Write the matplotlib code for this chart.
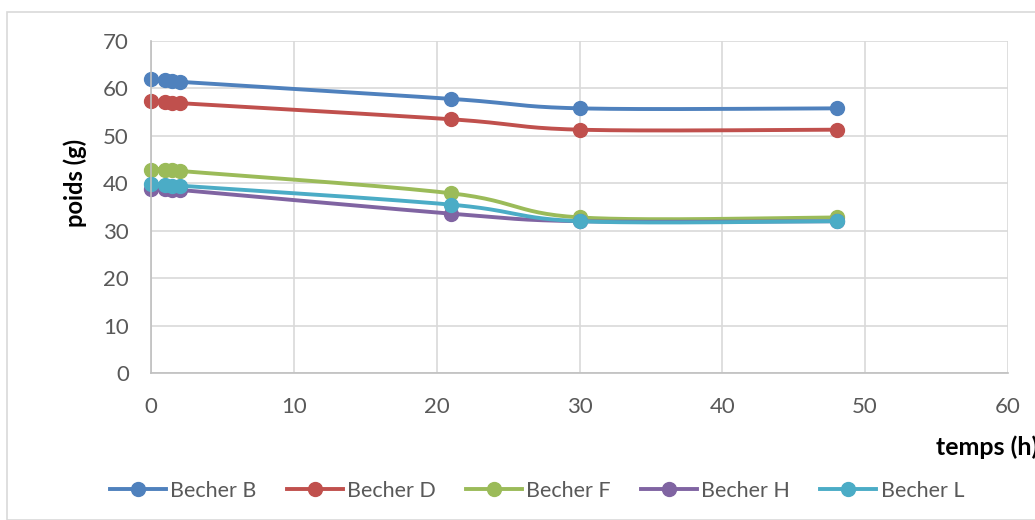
import numpy as np
import matplotlib
matplotlib.use("Agg")
import matplotlib.pyplot as plt
from matplotlib.patches import Rectangle

plt.rcParams["font.family"] = ["Lato", "DejaVu Sans"]

# temps (h) and mass of each beaker (g)
temps = [0, 1, 1.5, 2, 21, 30, 48]
becher_b = [62.0, 61.8, 61.5, 61.4, 57.8, 55.8, 55.8]
becher_d = [57.4, 57.1, 56.9, 56.9, 53.5, 51.3, 51.3]
becher_f = [42.8, 42.7, 42.7, 42.6, 37.9, 32.8, 32.8]
becher_h = [38.9, 38.7, 38.6, 38.6, 33.6, 32.0, 32.0]
becher_l = [39.8, 39.6, 39.5, 39.5, 35.5, 32.0, 32.0]

labels = ["Becher B", "Becher D", "Becher F", "Becher H", "Becher L"]
colors = ["#4F81BD", "#C0504D", "#9BBB59", "#8064A2", "#4BACC6"]
series = [becher_b, becher_d, becher_f, becher_h, becher_l]


def smooth(x, y, n=30):
    # cardinal-spline style smoothing between the measured points
    x = np.asarray(x, float)
    y = np.asarray(y, float)
    xs, ys = [x[0]], [y[0]]
    t = np.linspace(0, 1, n)[1:]
    k = 1 / 6
    for i in range(len(x) - 1):
        p0 = np.array([x[max(i - 1, 0)], y[max(i - 1, 0)]])
        p1 = np.array([x[i], y[i]])
        p2 = np.array([x[i + 1], y[i + 1]])
        p3 = np.array([x[min(i + 2, len(x) - 1)], y[min(i + 2, len(x) - 1)]])
        c1 = p1 + (p2 - p0) * k
        c2 = p2 - (p3 - p1) * k
        b = ((1 - t) ** 3)[:, None] * p1 + (3 * (1 - t) ** 2 * t)[:, None] * c1 \
            + (3 * (1 - t) * t ** 2)[:, None] * c2 + (t ** 3)[:, None] * p2
        xs.extend(b[:, 0])
        ys.extend(b[:, 1])
    return np.array(xs), np.array(ys)


W, H = 1035, 520
fig = plt.figure(figsize=(W / 100, H / 100), dpi=100)
fig.patches.append(Rectangle((7 / W, 0), 1.2, 1 - 12 / H, transform=fig.transFigure,
                             fill=False, edgecolor="#d9d9d9", linewidth=1.2))

ax = fig.add_axes([151 / W, 1 - 373 / H, (1008 - 151) / W, (373 - 41) / H])
ax.set_xlim(0, 60)
ax.set_ylim(0, 70)
ax.set_xticks(range(0, 61, 10))
ax.set_yticks(range(0, 71, 10))
ax.grid(True, color="#d9d9d9", linewidth=1.2)
ax.set_axisbelow(True)
for s in ["top", "right"]:
    ax.spines[s].set_visible(False)
for s in ["left", "bottom"]:
    ax.spines[s].set_color("#bfbfbf")
    ax.spines[s].set_linewidth(1.2)
ax.tick_params(length=0, labelsize=16, colors="#595959")
ax.tick_params(axis="y", pad=16)
ax.tick_params(axis="x", pad=17)

handles = []
for vals, lab, col in zip(series, labels, colors):
    sx, sy = smooth(temps, vals)
    ax.plot(sx, sy, color=col, lw=2.8, solid_capstyle="round", clip_on=False)
    ax.plot(temps, vals, "o", color=col, ms=10, clip_on=False)
    h, = ax.plot([], [], color=col, lw=2.8, marker="o", ms=10, label=lab)
    handles.append(h)

fig.text(75 / W, 1 - 183 / H, "poids (g)", rotation=90, ha="center", va="center",
         fontsize=17, fontweight="bold")
fig.text(936 / W, 1 - 447 / H, "temps (h)", ha="left", va="center",
         fontsize=18, fontweight="bold")

fig.legend(handles=handles, loc="center", bbox_to_anchor=(537 / W, 1 - 491 / H),
           ncol=5, frameon=False, fontsize=15.5, handlelength=2.6, handletextpad=0.2,
           columnspacing=1.4, labelcolor="#595959")

fig.savefig("out.png", dpi=100)
